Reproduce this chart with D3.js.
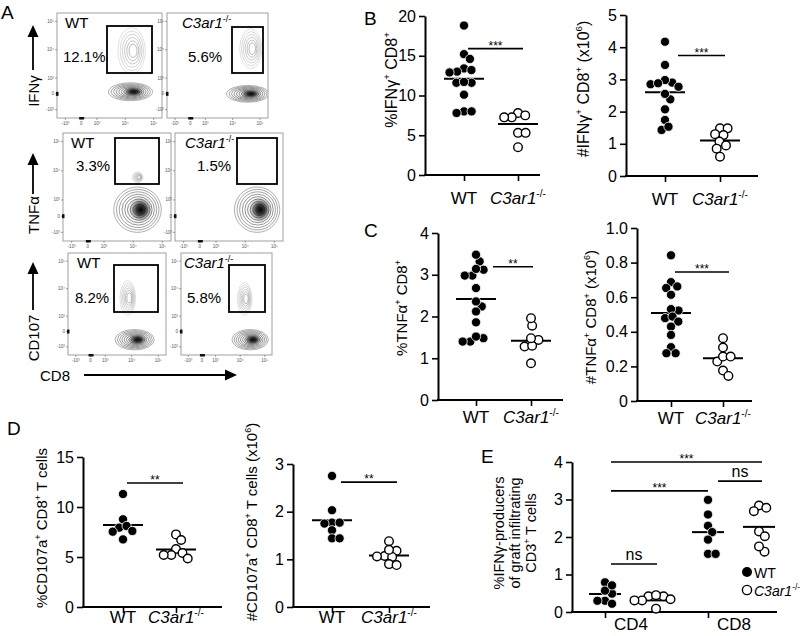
<!DOCTYPE html>
<html><head><meta charset="utf-8">
<script src="https://cdn.jsdelivr.net/npm/d3@7"></script>
<style>body{margin:0;background:#fff}svg{display:block}</style>
</head><body>
<svg id="fig" width="800" height="636"></svg>
<script>
// ---------------- DATA ----------------
const genotypes = ["WT", "C3ar1"];
const flowMarkers = ["IFNγ", "TNFα", "CD107"];
const flowPctWT = ["12.1%", "3.3%", "8.2%"];
const flowPctKO = ["5.6%", "1.5%", "5.8%"];
const flowTickLabels = ["-10³", "0", "10³", "10⁴", "10⁵"];

const ifngPctWT = [18.8, 15.2, 14.6, 13.4, 13.0, 12.9, 13.2, 11.6, 11.6, 11.7, 10.1, 8.0, 7.8, 8.0];
const ifngPctKO = [7.8, 7.25, 7.25, 7.5, 5.3, 5.3, 3.5];
const ifngPctMean = [12.1, 6.4];
const ifngPctTicks = [0, 5, 10, 15, 20];

const ifngNumWT = [4.17, 3.45, 2.90, 2.85, 2.98, 2.88, 2.38, 2.55, 2.77, 2.07, 1.74, 1.43, 1.53];
const ifngNumKO = [1.48, 1.48, 1.27, 1.30, 1.07, 0.95, 0.85, 0.60];
const ifngNumMean = [2.6, 1.1];
const ifngNumTicks = [0, 1, 2, 3, 4, 5];

const tnfPctWT = [3.32, 3.48, 2.98, 3.12, 3.14, 2.98, 2.68, 2.24, 2.12, 2.36, 1.86, 1.48, 1.40, 1.40, 1.52];
const tnfPctKO = [1.78, 1.96, 1.44, 1.28, 1.30, 1.48, 0.88];
const tnfPctMean = [2.42, 1.42];
const tnfPctTicks = [0, 1, 2, 3, 4];

const tnfNumWT = [0.842, 0.687, 0.653, 0.662, 0.614, 0.523, 0.531, 0.479, 0.488, 0.459, 0.430, 0.382, 0.311, 0.276, 0.276];
const tnfNumKO = [0.363, 0.309, 0.228, 0.257, 0.257, 0.176, 0.145];
const tnfNumMean = [0.508, 0.247];
const tnfNumTicks = [0, 0.2, 0.4, 0.6, 0.8, 1.0];

const cd107PctWT = [11.3, 8.77, 7.93, 8.1, 7.53, 7.6, 6.76];
const cd107PctKO = [7.26, 6.7, 5.8, 5.2, 5.4, 4.85, 5.2];
const cd107PctMean = [8.2, 5.76];
const cd107PctTicks = [0, 5, 10, 15];

const cd107NumWT = [2.75, 2.03, 1.77, 1.75, 1.77, 1.61, 1.44, 1.44];
const cd107NumKO = [1.38, 1.18, 1.07, 1.05, 1.06, 1.20, 0.90, 0.88];
const cd107NumMean = [1.82, 1.08];
const cd107NumTicks = [0, 1, 2, 3];

const cellTypes = ["CD4", "CD8"];
const ifngCD4WT = [0.79, 0.49, 0.57, 0.71, 0.30, 0.22, 0.30];
const ifngCD4KO = [0.42, 0.42, 0.45, 0.31, 0.31, 0.34, 0.09];
const ifngCD8WT = [2.99, 2.60, 2.30, 2.13, 1.93, 1.55, 1.55];
const ifngCD8KO = [2.84, 2.69, 2.78, 2.15, 2.02, 1.61, 1.75];
const ifngCD4Mean = [0.48, 0.31];
const ifngCD8Mean = [2.13, 2.27];
const eTicks = [0, 1, 2, 3, 4];
const eSigLabels = ["***", "ns", "***", "ns"];
const eSigValues = [4.0, 3.49, 3.23, 1.28];
const eSigFrom = [["CD4", "WT"], ["CD8", "WT"], ["CD4", "WT"], ["CD4", "WT"]];
const eSigTo = [["CD8", "C3ar1"], ["CD8", "C3ar1"], ["CD8", "WT"], ["CD4", "C3ar1"]];

// ---------------- LAYOUT / STYLE ----------------
const FONT = '"Liberation Sans", Arial, Helvetica, sans-serif';
const svg = d3.select("#fig").attr("font-family", FONT);
svg.append("rect").attr("width", 800).attr("height", 636).attr("fill", "#fff");

function rich(sel, parts, size) {
  let shifted = false;
  parts.forEach(([t, type]) => {
    const ts = sel.append("tspan").text(t);
    if (type === "sup") {
      ts.attr("font-size", size * 0.6);
      if (!shifted) { ts.attr("dy", -size * 0.42); shifted = true; }
    } else {
      if (shifted) { ts.attr("dy", size * 0.42); shifted = false; }
      if (type === "it") ts.attr("font-style", "italic");
    }
  });
}
const koParts = [["C3ar1", "it"], ["-/-", "sup"]];

function swarm(vals, y, d) {
  const order = d3.range(vals.length).sort((a, b) => d3.descending(vals[a], vals[b]));
  const placed = [], xs = new Array(vals.length);
  for (const i of order) {
    const yi = y(vals[i]);
    const cands = [0];
    for (const p of placed) {
      const dy = Math.abs(p.y - yi);
      if (dy < d) { const dx = Math.sqrt(d * d - dy * dy); cands.push(p.x + dx + 0.01, p.x - dx - 0.01); }
    }
    cands.sort((a, b) => Math.abs(a) - Math.abs(b));
    let xi = 0;
    for (const c of cands) {
      if (placed.every(p => (p.x - c) ** 2 + (p.y - yi) ** 2 >= d * d - 0.05)) { xi = c; break; }
    }
    placed.push({ x: xi, y: yi }); xs[i] = xi;
  }
  return xs;
}

function drawPoints(g, vals, cx, y, filled) {
  const off = swarm(vals, y, 7.6);
  g.selectAll(null).data(vals).join("circle")
    .attr("cx", (d, i) => cx + off[i]).attr("cy", d => y(d))
    .attr("r", filled ? 4.6 : 4.3)
    .attr("fill", filled ? "#000" : "#fff")
    .attr("stroke", filled ? "#fff" : "#000")
    .attr("stroke-width", filled ? 0.8 : 1.4);
}

function yAxis(g, y, ax, ticks, fmt, fs) {
  const a = g.append("g").attr("transform", `translate(${ax},0)`)
    .call(d3.axisLeft(y).tickValues(ticks).tickSize(6).tickSizeOuter(0).tickPadding(3).tickFormat(fmt));
  a.select(".domain").attr("stroke-width", 2).attr("stroke", "#000");
  a.selectAll(".tick line").attr("stroke-width", 1.6).attr("stroke", "#000");
  a.selectAll(".tick text").attr("font-size", fs).attr("font-family", FONT).attr("fill", "#000");
}

function scatterPanel(c) {
  const g = svg.append("g");
  const y = d3.scaleLinear().domain([0, c.max]).range([c.y0, c.yTop]);
  const x = d3.scaleOrdinal().domain(genotypes).range(c.cx);
  g.append("line").attr("x1", c.ax - 1).attr("x2", c.xEnd).attr("y1", c.y0).attr("y2", c.y0)
    .attr("stroke", "#000").attr("stroke-width", 2);
  const xa = g.append("g").attr("transform", `translate(0,${c.y0})`)
    .call(d3.axisBottom(x).tickSize(6).tickSizeOuter(0).tickFormat(""));
  xa.select(".domain").remove();
  xa.selectAll(".tick line").attr("stroke-width", 1.6).attr("stroke", "#000");
  genotypes.forEach((gname, i) => {
    const t = g.append("text").attr("x", x(gname)).attr("y", c.y0 + c.labDy)
      .attr("text-anchor", "middle").attr("font-size", 17).attr("fill", "#000");
    if (i === 0) t.text("WT"); else rich(t, koParts, 17);
  });
  yAxis(g, y, c.ax, c.ticks, c.fmt || (d => d), 16);
  c.means.forEach((m, i) => {
    const cx = x(genotypes[i]);
    g.append("line").attr("x1", cx - c.mw / 2).attr("x2", cx + c.mw / 2)
      .attr("y1", y(m)).attr("y2", y(m)).attr("stroke", "#000").attr("stroke-width", 2);
  });
  drawPoints(g, c.wt, x("WT"), y, true);
  drawPoints(g, c.ko, x("C3ar1"), y, false);
  const sx0 = x("WT") + c.sig.dx[0], sx1 = x("C3ar1") + c.sig.dx[1];
  g.append("line").attr("x1", sx0).attr("x2", sx1).attr("y1", y(c.sig.v)).attr("y2", y(c.sig.v))
    .attr("stroke", "#000").attr("stroke-width", 1.6);
  g.append("text").attr("x", (sx0 + sx1) / 2).attr("y", y(c.sig.v) + 1)
    .attr("text-anchor", "middle").attr("font-size", 12).text(c.sig.label);
  const yl = g.append("text").attr("transform", `translate(${c.lx},${c.ly}) rotate(-90)`)
    .attr("text-anchor", "middle").attr("font-size", c.lfs).attr("fill", "#000");
  rich(yl, c.label, c.lfs);
}

const fmt1 = d => d === 0 ? "0" : d3.format(".1f")(d);

const panels = [
  { wt: ifngPctWT, ko: ifngPctKO, means: ifngPctMean, ticks: ifngPctTicks, max: 20,
    ax: 425, y0: 175, yTop: 16, xEnd: 540, cx: [464, 518], labDy: 29, mw: 40,
    sig: { v: 15.9, label: "***", dx: [4, 5] },
    label: [["%IFNγ"], ["+", "sup"], [" CD8"], ["+", "sup"]], lx: 397, ly: 80, lfs: 16 },
  { wt: ifngNumWT, ko: ifngNumKO, means: ifngNumMean, ticks: ifngNumTicks, max: 5,
    ax: 626, y0: 176, yTop: 15, xEnd: 758, cx: [665, 720], labDy: 29, mw: 40,
    sig: { v: 3.74, label: "***", dx: [13, 5] },
    label: [["#IFNγ"], ["+", "sup"], [" CD8"], ["+", "sup"], [" (x10"], ["6", "sup"], [")"]], lx: 589, ly: 89, lfs: 16 },
  { wt: tnfPctWT, ko: tnfPctKO, means: tnfPctMean, ticks: tnfPctTicks, max: 4,
    ax: 438, y0: 400, yTop: 233, xEnd: 563, cx: [476, 531], labDy: 23, mw: 40,
    sig: { v: 3.19, label: "**", dx: [17, 2] },
    label: [["%TNFα"], ["+", "sup"], [" CD8"], ["+", "sup"]], lx: 407, ly: 308, lfs: 15 },
  { wt: tnfNumWT, ko: tnfNumKO, means: tnfNumMean, ticks: tnfNumTicks, max: 1.0, fmt: fmt1,
    ax: 637, y0: 401, yTop: 228, xEnd: 752, cx: [671, 723], labDy: 23, mw: 40,
    sig: { v: 0.746, label: "***", dx: [4, 6] },
    label: [["#TNFα"], ["+", "sup"], [" CD8"], ["+", "sup"], [" (x10"], ["6", "sup"], [")"]], lx: 596, ly: 317, lfs: 15 },
  { wt: cd107PctWT, ko: cd107PctKO, means: cd107PctMean, ticks: cd107PctTicks, max: 15,
    ax: 83, y0: 607, yTop: 457, xEnd: 222, cx: [123, 176], labDy: 16, mw: 40,
    sig: { v: 12.4, label: "**", dx: [4, 7] },
    label: [["%CD107a"], ["+", "sup"], [" CD8"], ["+", "sup"], [" T cells"]], lx: 47, ly: 528, lfs: 15 },
  { wt: cd107NumWT, ko: cd107NumKO, means: cd107NumMean, ticks: cd107NumTicks, max: 3,
    ax: 293, y0: 607, yTop: 464, xEnd: 430, cx: [332, 389], labDy: 16, mw: 40,
    sig: { v: 2.62, label: "**", dx: [9, 8] },
    label: [["#CD107a"], ["+", "sup"], [" CD8"], ["+", "sup"], [" T cells (x10"], ["6", "sup"], [")"]], lx: 257, ly: 522, lfs: 15 }
];
panels.forEach(scatterPanel);

// ---------------- Panel E ----------------
(function () {
  const g = svg.append("g");
  const ax = 572, y0 = 612, yTop = 462, xEnd = 777;
  const y = d3.scaleLinear().domain([0, 4]).range([y0, yTop]);
  const grp = d3.scaleOrdinal().domain(cellTypes).range([631, 734]);
  const off = d3.scaleOrdinal().domain(genotypes).range([-26, 25]);
  const px = (ct, gt) => grp(ct) + off(gt);
  const tickScale = d3.scaleOrdinal().domain(cellTypes).range(cellTypes.map(ct => px(ct, "WT")));
  g.append("line").attr("x1", ax - 1).attr("x2", xEnd).attr("y1", y0).attr("y2", y0)
    .attr("stroke", "#000").attr("stroke-width", 2);
  const xa = g.append("g").attr("transform", `translate(0,${y0})`)
    .call(d3.axisBottom(tickScale).tickSize(6).tickSizeOuter(0).tickFormat(""));
  xa.select(".domain").remove();
  xa.selectAll(".tick line").attr("stroke-width", 1.6).attr("stroke", "#000");
  cellTypes.forEach(ct => g.append("text").attr("x", grp(ct)).attr("y", y0 + 18)
    .attr("text-anchor", "middle").attr("font-size", 17).text(ct));
  yAxis(g, y, ax, eTicks, d => d, 16);
  const sets = [["CD4", ifngCD4WT, ifngCD4KO, ifngCD4Mean], ["CD8", ifngCD8WT, ifngCD8KO, ifngCD8Mean]];
  sets.forEach(([ct, wt, ko, mean]) => {
    genotypes.forEach((gt, i) => {
      const cx = px(ct, gt);
      g.append("line").attr("x1", cx - 16).attr("x2", cx + 16).attr("y1", y(mean[i])).attr("y2", y(mean[i]))
        .attr("stroke", "#000").attr("stroke-width", 2);
    });
    drawPoints(g, wt, px(ct, "WT"), y, true);
    drawPoints(g, ko, px(ct, "C3ar1"), y, false);
  });
  const sigDx = [[6, 3], [10, 3], [6, 0], [6, 1]];
  eSigLabels.forEach((lab, i) => {
    const x0 = px(...eSigFrom[i]) + sigDx[i][0], x1 = px(...eSigTo[i]) + sigDx[i][1];
    const yy = y(eSigValues[i]);
    g.append("line").attr("x1", x0).attr("x2", x1).attr("y1", yy).attr("y2", yy)
      .attr("stroke", "#000").attr("stroke-width", 1.6);
    const t = g.append("text").attr("x", (x0 + x1) / 2).attr("text-anchor", "middle");
    if (lab === "ns") t.attr("y", yy - 4).attr("font-size", 16).text(lab);
    else t.attr("y", yy + 1).attr("font-size", 12).text(lab);
  });
  const lines = [[["%IFNγ-producers"]], [["of graft infiltrating"]], [["CD3"], ["+", "sup"], [" T cells"]]];
  const lineX = [504, 520, 536];
  lines.forEach((parts, i) => {
    const t = g.append("text").attr("transform", `translate(${lineX[i]},533) rotate(-90)`)
      .attr("text-anchor", "middle").attr("font-size", 14.5);
    rich(t, parts, 14.5);
  });
  genotypes.forEach((gt, i) => {
    const ly = 572 + i * 18;
    g.append("circle").attr("cx", 747).attr("cy", ly).attr("r", i ? 4.6 : 5)
      .attr("fill", i ? "#fff" : "#000").attr("stroke", "#000").attr("stroke-width", i ? 1.4 : 0);
    const t = g.append("text").attr("x", 754).attr("y", ly + 5.5).attr("font-size", 14);
    if (i === 0) t.text("WT"); else rich(t, koParts, 14);
  });
})();

// ---------------- Panel A (flow plots) ----------------
const defs = svg.append("defs");
const grad = defs.append("radialGradient").attr("id", "core");
grad.append("stop").attr("offset", "0%").attr("stop-color", "#000").attr("stop-opacity", 1);
grad.append("stop").attr("offset", "40%").attr("stop-color", "#222").attr("stop-opacity", 0.9);
grad.append("stop").attr("offset", "100%").attr("stop-color", "#777").attr("stop-opacity", 0.05);

const flowTickPos = [0.08, 0.23, 0.38, 0.65, 0.92];
const flowLayout = [
  { row: 0, geno: 0, x: 57, y: 13, w: 105, h: 105, gate: [107, 26, 152, 73], lab: [65, 28], pctP: [63, 62],
    pops: [{ nx: 0.70, ny: 0.25, rx: 0.21, ry: 0.085, tone: "dark" }, { nx: 0.71, ny: 0.64, rx: 0.13, ry: 0.22, tone: "light" }] },
  { row: 0, geno: 1, x: 167, y: 13, w: 101, h: 105, gate: [232, 27, 263, 73], lab: [182, 28], pctP: [188, 62],
    pops: [{ nx: 0.80, ny: 0.23, rx: 0.21, ry: 0.08, tone: "dark" }, { nx: 0.83, ny: 0.66, rx: 0.11, ry: 0.19, tone: "light" }] },
  { row: 1, geno: 0, x: 63, y: 133, w: 108, h: 108, gate: [115, 138, 159, 184], lab: [71, 148], pctP: [76, 171],
    pops: [{ nx: 0.69, ny: 0.29, rx: 0.22, ry: 0.21, tone: "dark" }, { nx: 0.69, ny: 0.59, rx: 0.05, ry: 0.05, tone: "light" }] },
  { row: 1, geno: 1, x: 175, y: 133, w: 108, h: 108, gate: [237, 138, 277, 184], lab: [185, 148], pctP: [197, 171],
    pops: [{ nx: 0.76, ny: 0.29, rx: 0.21, ry: 0.21, tone: "dark" }] },
  { row: 2, geno: 0, x: 68, y: 253, w: 98, h: 102, gate: [114, 265, 158, 312], lab: [77, 268], pctP: [75, 303],
    pops: [{ nx: 0.68, ny: 0.15, rx: 0.2, ry: 0.1, tone: "dark" }, { nx: 0.61, ny: 0.56, rx: 0.08, ry: 0.17, tone: "light" }] },
  { row: 2, geno: 1, x: 181, y: 253, w: 91, h: 102, gate: [229, 265, 265, 312], lab: [184, 268], pctP: [187, 303],
    pops: [{ nx: 0.76, ny: 0.15, rx: 0.2, ry: 0.1, tone: "dark" }, { nx: 0.70, ny: 0.55, rx: 0.08, ry: 0.16, tone: "light" }] }
];

flowLayout.forEach(f => {
  const g = svg.append("g");
  const sx = d3.scaleLinear().domain([0, 1]).range([f.x, f.x + f.w]);
  const sy = d3.scaleLinear().domain([0, 1]).range([f.y + f.h, f.y]);
  g.append("rect").attr("x", f.x).attr("y", f.y).attr("width", f.w).attr("height", f.h)
    .attr("fill", "#fff").attr("stroke", "#a0a0a0").attr("stroke-width", 1);
  const clip = "clip" + f.row + f.geno;
  defs.append("clipPath").attr("id", clip).append("rect")
    .attr("x", f.x).attr("y", f.y).attr("width", f.w).attr("height", f.h);
  const cg = g.append("g").attr("clip-path", `url(#${clip})`);
  f.pops.forEach(p => {
    const n = p.tone === "dark" ? 8 : 6;
    const col = p.tone === "dark" ? d3.interpolateRgb("#8c8c8c", "#3a3a3a") : d3.interpolateRgb("#d4d4d4", "#9c9c9c");
    for (let k = 0; k < n; k++) {
      const s = 1 - k / n * 0.85;
      cg.append("ellipse").attr("cx", sx(p.nx + (1 - s) * 0.02)).attr("cy", sy(p.ny))
        .attr("rx", p.rx * f.w * s).attr("ry", p.ry * f.h * s)
        .attr("fill", "none").attr("stroke", col(k / (n - 1))).attr("stroke-width", 0.7);
    }
    if (p.tone === "dark") {
      cg.append("ellipse").attr("cx", sx(p.nx + 0.03)).attr("cy", sy(p.ny))
        .attr("rx", p.rx * f.w * 0.5).attr("ry", p.ry * f.h * 0.55).attr("fill", "url(#core)");
    }
  });
  flowTickPos.forEach((t, i) => {
    g.append("line").attr("x1", sx(t)).attr("x2", sx(t)).attr("y1", f.y + f.h).attr("y2", f.y + f.h + 2)
      .attr("stroke", "#666").attr("stroke-width", 0.6);
    g.append("line").attr("x1", f.x - 2).attr("x2", f.x).attr("y1", sy(t)).attr("y2", sy(t))
      .attr("stroke", "#666").attr("stroke-width", 0.6);
    g.append("text").attr("x", sx(t)).attr("y", f.y + f.h + 7).attr("text-anchor", "middle")
      .attr("font-size", 4.5).attr("fill", "#555").text(flowTickLabels[i]);
    g.append("text").attr("x", f.x - 3).attr("y", sy(t) + 1.5).attr("text-anchor", "end")
      .attr("font-size", 4.5).attr("fill", "#555").text(flowTickLabels[i]);
  });
  g.append("rect").attr("x", sx(flowTickPos[1]) - 2).attr("y", f.y + f.h - 1).attr("width", 5).attr("height", 2.5).attr("fill", "#111");
  g.append("rect").attr("x", f.x - 1).attr("y", sy(flowTickPos[1]) - 2).attr("width", 2.5).attr("height", 4).attr("fill", "#111");
  g.append("rect").attr("x", f.gate[0]).attr("y", f.gate[1])
    .attr("width", f.gate[2] - f.gate[0]).attr("height", f.gate[3] - f.gate[1])
    .attr("fill", "none").attr("stroke", "#000").attr("stroke-width", 1.8);
  const lt = g.append("text").attr("x", f.lab[0]).attr("y", f.lab[1]).attr("font-size", 15);
  if (f.geno === 0) lt.text("WT"); else rich(lt, koParts, 15);
  g.append("text").attr("x", f.pctP[0]).attr("y", f.pctP[1]).attr("font-size", 15)
    .text(f.geno === 0 ? flowPctWT[f.row] : flowPctKO[f.row]);
});

const arrowRows = [{ tip: 25, tail: 70, lc: 91 }, { tip: 153, tail: 194, lc: 215 }, { tip: 262, tail: 310, lc: 338 }];
arrowRows.forEach((a, i) => {
  svg.append("line").attr("x1", 33).attr("x2", 33).attr("y1", a.tail).attr("y2", a.tip + 8)
    .attr("stroke", "#000").attr("stroke-width", 1.8);
  svg.append("path").attr("d", `M${33},${a.tip} L${27.5},${a.tip + 12} L${38.5},${a.tip + 12} Z`).attr("fill", "#000");
  svg.append("text").attr("transform", `translate(38.5,${a.lc}) rotate(-90)`)
    .attr("text-anchor", "middle").attr("font-size", 15).text(flowMarkers[i]);
});
svg.append("line").attr("x1", 84).attr("x2", 228).attr("y1", 375).attr("y2", 375).attr("stroke", "#000").attr("stroke-width", 1.8);
svg.append("path").attr("d", "M237,375 L225,369.5 L225,380.5 Z").attr("fill", "#000");
svg.append("text").attr("x", 40).attr("y", 381).attr("font-size", 15).text("CD8");

[["A", 1, 19], ["B", 364, 25], ["C", 364, 237], ["D", 7, 435], ["E", 481, 463]].forEach(([l, x, y]) =>
  svg.append("text").attr("x", x).attr("y", y).attr("font-size", 19).text(l));
</script>
</body></html>
